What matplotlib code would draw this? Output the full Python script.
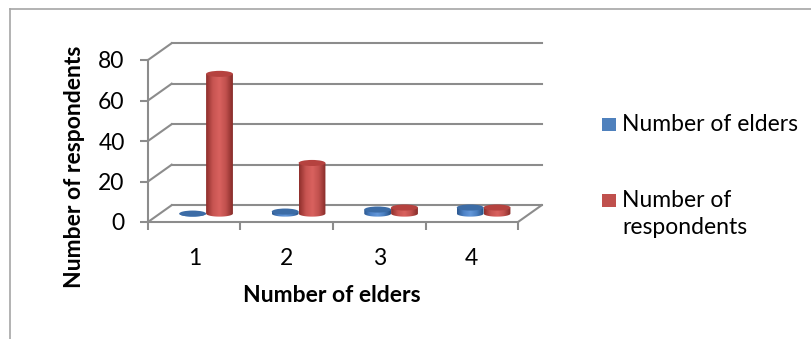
import matplotlib.pyplot as plt
import numpy as np
from matplotlib.patches import Ellipse, PathPatch, Rectangle
from matplotlib.path import Path
from matplotlib.lines import Line2D
from matplotlib.colors import LinearSegmentedColormap

categories = ["1", "2", "3", "4"]
series_names = ["Number of elders", "Number of\nrespondents"]
elders = [0, 1, 2, 3]
respondents = [69, 25, 3, 3]
yticks = [0, 20, 40, 60, 80]

plt.rcParams["font.family"] = ["Lato", "DejaVu Sans"]

GRID = "#8c8c8c"
# body gradients (edge -> highlight -> edge) and flat cap colours
body_cmaps = [
    LinearSegmentedColormap.from_list("b", ["#2c5890", "#4f84c8", "#6498da", "#4a7fc0", "#274f82"]),
    LinearSegmentedColormap.from_list("r", ["#8f2f2c", "#c75451", "#d9625f", "#c0504d", "#862b28"]),
]
cap_colors = ["#3c6ca6", "#b5423f"]
legend_colors = ["#4f81bd", "#c0504d"]

DX, DY = 0.256, 8.3      # depth offset of the back wall (x units, value units)
W, EH = 0.29, 3.0        # cylinder width and ellipse height
FS = 16.5

fig = plt.figure(figsize=(8.12, 3.39), dpi=100)
ax = fig.add_axes([148 / 812, 117 / 339, 370 / 812, 162 / 339])
ax.set_xlim(0.5, 4.5)
ax.set_ylim(0, 80)

# back wall grid + left wall diagonals
for v in yticks:
    ax.add_line(Line2D([0.5 + DX, 4.5 + DX], [v + DY, v + DY], color=GRID, lw=1.5, clip_on=False, zorder=1))
    ax.add_line(Line2D([0.5, 0.5 + DX], [v, v + DY], color=GRID, lw=1.5, clip_on=False, zorder=1))
# right edge of the floor
ax.add_line(Line2D([4.5, 4.5 + DX], [0, DY], color=GRID, lw=1.5, clip_on=False, zorder=1))


def cylinder(xc, value, k, z):
    yb = DY / 2
    yt = yb + value
    xl, xr = xc - W / 2, xc + W / 2
    th = np.linspace(np.pi, 2 * np.pi, 40)
    arc = np.column_stack([xc + W / 2 * np.cos(th), yb + EH / 2 * np.sin(th)])
    verts = np.vstack([[xl, yt], arc, [xr, yt], [xl, yt]])
    path = Path(verts, closed=True)
    clip = PathPatch(path, transform=ax.transData, facecolor="none", edgecolor="none")
    grad = np.linspace(0, 1, 64).reshape(1, -1)
    im = ax.imshow(grad, extent=[xl, xr, yb - EH / 2, yt], aspect="auto",
                   cmap=body_cmaps[k], interpolation="bicubic", zorder=z)
    im.set_clip_path(clip)
    ax.add_patch(Ellipse((xc, yt), W, EH, facecolor=cap_colors[k], edgecolor="none", zorder=z + 0.1))


x = np.arange(1, len(categories) + 1)
for i, xi in enumerate(x):
    for k, vals in enumerate([elders, respondents]):
        xc = xi + (k - 0.5) * W + DX / 2
        cylinder(xc, vals[i], k, 3 + k)

ax.set_xlim(0.5, 4.5)
ax.set_ylim(0, 80)

for s in ["top", "right"]:
    ax.spines[s].set_visible(False)
for s in ["left", "bottom"]:
    ax.spines[s].set_color(GRID)
    ax.spines[s].set_linewidth(1.5)
    ax.spines[s].set_zorder(2)

ax.set_yticks(yticks)
ax.tick_params(axis="y", direction="out", length=5.8, width=1.5, color=GRID, pad=11, labelsize=FS)
ax.set_xticks(x)
ax.set_xticklabels(categories)
ax.set_xticks(np.arange(0.5, 5.0, 1.0), minor=True)
ax.tick_params(axis="x", which="major", length=0, pad=19, labelsize=FS)
ax.tick_params(axis="x", which="minor", direction="out", length=5.8, width=1.5, color=GRID)
ax.patch.set_visible(False)

fig.text(332 / 812, 1 - 295 / 339, "Number of elders", ha="center", va="center",
         fontsize=FS, fontweight="bold")
fig.text(75 / 812, 1 - 167 / 339, "Number of respondents", ha="center", va="center",
         rotation=90, fontsize=FS, fontweight="bold")

# legend
legend_y = [124, 200]
text_y = [124, 214]
for k, name in enumerate(series_names):
    yc = legend_y[k]
    fig.patches.append(Rectangle((602 / 812, 1 - (yc + 7) / 339), 14 / 812, 13 / 339,
                                 transform=fig.transFigure, facecolor=legend_colors[k], edgecolor="none"))
    fig.text(622 / 812, 1 - text_y[k] / 339, name, ha="left", va="center",
             fontsize=FS, linespacing=1.38)

# chart-area border
fig.add_artist(Line2D([10 / 812, 10 / 812], [0, 1 - 9 / 339], color="#a6a6a6", lw=1.2, transform=fig.transFigure))
fig.add_artist(Line2D([10 / 812, 1], [1 - 9 / 339, 1 - 9 / 339], color="#a6a6a6", lw=1.2, transform=fig.transFigure))

fig.savefig("out.png", dpi=100)
